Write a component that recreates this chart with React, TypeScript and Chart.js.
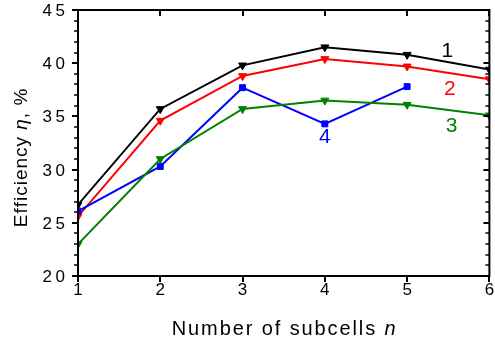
import { useEffect, useRef } from "react";
import { Chart, registerables } from "chart.js";

Chart.register(...registerables);

// ---- data ----
const subcells = [1, 2, 3, 4, 5, 6];
const curve1 = [26.7, 35.7, 39.8, 41.5, 40.8, 39.4]; // black
const curve2 = [25.6, 34.6, 38.8, 40.4, 39.7, 38.5]; // red
const curve3 = [23.0, 31.0, 35.7, 36.5, 36.1, 35.1]; // green
const curve4 = [26.1, 30.3, 37.7, 34.3, 37.8]; // blue (n = 1..5)

const xTicks = [1, 2, 3, 4, 5, 6];
const yTicks = [20, 25, 30, 35, 40, 45];

const curveNames = ["1", "2", "3", "4"];
const nameX = [5.49, 5.52, 5.54, 4.0];
const nameY = [41.3, 37.75, 34.25, 33.25];
const nameColors = ["#000000", "#ff0000", "#008000", "#0000ff"];

const FONT = '"Liberation Sans", Arial, sans-serif';

type Part = { text: string; italic?: boolean };

function drawSpaced(
  ctx: CanvasRenderingContext2D,
  parts: Part[],
  x: number,
  y: number,
  size: number,
  spacing: number,
  align: "left" | "center" | "right"
) {
  ctx.textAlign = "left";
  ctx.textBaseline = "alphabetic";
  const chars: { c: string; font: string; w: number }[] = [];
  for (const p of parts) {
    const font = `${p.italic ? "italic " : ""}${size}px ${FONT}`;
    ctx.font = font;
    for (const c of Array.from(p.text)) {
      chars.push({ c, font, w: ctx.measureText(c).width });
    }
  }
  let total = chars.reduce((s, ch) => s + ch.w, 0) + spacing * (chars.length - 1);
  let cx = align === "left" ? x : align === "center" ? x - total / 2 : x - total;
  for (const ch of chars) {
    ctx.font = ch.font;
    ctx.fillText(ch.c, cx, y);
    cx += ch.w + spacing;
  }
}

const axesPlugin = {
  id: "axesPlugin",
  afterDatasetsDraw(chart: any) {
    const ctx: CanvasRenderingContext2D = chart.ctx;
    const { left, right, top, bottom } = chart.chartArea;
    const xs = chart.scales.x;
    const ys = chart.scales.y;
    ctx.save();
    // curve names
    for (let i = 0; i < curveNames.length; i++) {
      ctx.fillStyle = nameColors[i];
      const px = xs.getPixelForValue(nameX[i]);
      const py = ys.getPixelForValue(nameY[i]);
      drawSpaced(ctx, [{ text: curveNames[i] }], px, py + 7.5, 21, 0, "center");
    }
    // frame
    ctx.strokeStyle = "#000";
    ctx.lineWidth = 2;
    ctx.strokeRect(left, top, right - left, bottom - top);
    // y ticks (minor every 1)
    const ymin = yTicks[0];
    const ymax = yTicks[yTicks.length - 1];
    for (let v = ymin; v <= ymax; v++) {
      const py = Math.round(ys.getPixelForValue(v));
      const major = yTicks.includes(v);
      const len = major ? 6 : 4;
      ctx.lineWidth = major ? 2 : 1.5;
      ctx.beginPath();
      ctx.moveTo(left, py);
      ctx.lineTo(left - len, py);
      ctx.moveTo(right, py);
      ctx.lineTo(right - len, py);
      ctx.stroke();
    }
    // x ticks
    ctx.lineWidth = 2;
    for (const v of xTicks) {
      const px = Math.round(xs.getPixelForValue(v));
      ctx.beginPath();
      ctx.moveTo(px, bottom);
      ctx.lineTo(px, bottom + 6);
      ctx.moveTo(px, top);
      ctx.lineTo(px, top + 6);
      ctx.stroke();
    }
    // tick labels
    ctx.fillStyle = "#000";
    for (const v of yTicks) {
      const py = ys.getPixelForValue(v);
      drawSpaced(ctx, [{ text: String(v) }], left - 13, py + 6, 17, 3.5, "right");
    }
    for (const v of xTicks) {
      const px = xs.getPixelForValue(v);
      drawSpaced(ctx, [{ text: String(v) }], px, 295, 17, 3.5, "center");
    }
    // axis titles
    drawSpaced(
      ctx,
      [{ text: "Number of subcells " }, { text: "n", italic: true }],
      (left + right) / 2,
      335,
      20,
      1.9,
      "center"
    );
    ctx.save();
    ctx.translate(27, 158);
    ctx.rotate(-Math.PI / 2);
    drawSpaced(
      ctx,
      [{ text: "Efficiency " }, { text: "η", italic: true }, { text: ", %" }],
      0,
      0,
      19,
      1,
      "center"
    );
    ctx.restore();
    ctx.restore();
  },
};

function series(values: number[], color: string, style: string, label: string) {
  const isRect = style === "rect";
  return {
    label,
    data: values.map((v, i) => ({ x: subcells[i], y: v })),
    borderColor: color,
    backgroundColor: color,
    borderWidth: 2,
    pointStyle: style,
    rotation: isRect ? 0 : 180,
    pointRadius: isRect ? 4.2 : 4.6,
    pointBackgroundColor: color,
    pointBorderColor: color,
    pointBorderWidth: 1,
    tension: 0,
    clip: 0,
  };
}

export default function App() {
  const ref = useRef<HTMLCanvasElement | null>(null);
  useEffect(() => {
    if (!ref.current) return;
    const chart = new Chart(ref.current, {
      type: "line",
      data: {
        datasets: [
          series(curve3, "#008000", "triangle", "3"),
          series(curve4, "#0000ff", "rect", "4"),
          series(curve2, "#ff0000", "triangle", "2"),
          series(curve1, "#000000", "triangle", "1"),
        ] as any,
      },
      options: {
        responsive: false,
        maintainAspectRatio: false,
        animation: false,
        events: [],
        layout: { padding: { left: 78, top: 10, right: 3, bottom: 67 } },
        plugins: { legend: { display: false }, tooltip: { enabled: false } },
        scales: {
          x: { type: "linear", min: 1, max: 6, display: false },
          y: { type: "linear", min: 20, max: 45, display: false },
        },
      },
      plugins: [axesPlugin],
    });
    return () => chart.destroy();
  }, []);
  return (
    <div style={{ position: "absolute", left: 0, top: 0, width: 495, height: 343, background: "#fff" }}>
      <canvas ref={ref} width={495} height={343} style={{ display: "block" }} />
    </div>
  );
}
